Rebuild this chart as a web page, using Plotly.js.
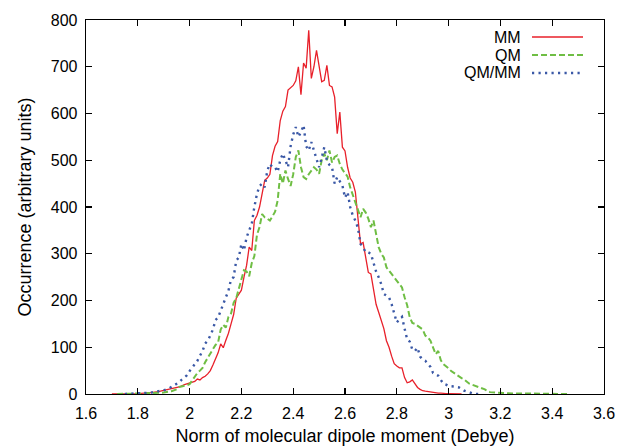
<!DOCTYPE html>
<html>
<head>
<meta charset="utf-8">
<script src="https://cdn.plot.ly/plotly-3.0.1.min.js"></script>
<style>html,body{margin:0;padding:0;background:#fff;}#chart{width:618px;height:446px;}</style>
</head>
<body>
<div id="chart"></div>
<script>
// Series names (legend)
var seriesNames = ["MM", "QM", "QM/MM"];

// MM (red, solid)
var xMM = [1.70,1.75,1.80,1.85,1.88,1.90,1.92,1.94,1.96,1.98,
 2.00,2.01,2.02,2.03,2.04,2.05,2.06,2.07,2.08,2.09,
 2.10,2.11,2.12,2.13,2.14,2.15,2.16,2.17,2.18,2.19,
 2.20,2.21,2.22,2.23,2.24,2.25,2.26,2.27,2.28,2.29,
 2.30,2.31,2.32,2.33,2.34,2.35,2.36,2.37,2.38,2.39,
 2.40,2.41,2.42,2.43,2.44,2.45,2.46,2.47,2.48,2.49,
 2.50,2.51,2.52,2.53,2.54,2.55,2.56,2.57,2.58,2.59,
 2.60,2.61,2.62,2.63,2.64,2.65,2.66,2.67,2.68,2.69,
 2.70,2.71,2.72,2.73,2.74,2.75,2.76,2.77,2.78,2.79,
 2.80,2.81,2.82,2.83,2.84,2.85,2.86,2.87,2.88,2.89,
 2.90,2.91,2.92,2.93,2.94,2.95,2.96,2.97,2.98,2.99,3.00,3.02,3.05];
var yMM = [0,0,1,3,5,8,10,12,15,20,
 24,26,27,32,30,35,38,43,50,62,
 75,88,107,99,115,130,150,170,205,215,
 222,250,275,314,307,371,382,400,425,457,
 462,470,510,530,540,585,605,615,650,655,
 660,670,700,640,708,697,778,675,700,735,
 700,668,671,703,660,657,635,557,603,528,
 520,485,462,453,432,378,321,324,290,260,
 257,220,192,175,157,140,114,100,81,65,
 60,56,56,35,24,26,30,21,14,10,
 7,6,5,4,3,3,2,2,1,1,1,0,0];

// QM (green, dashed)
var xQM = [1.72,1.75,1.80,1.85,1.90,1.93,1.95,
 1.96,1.97,1.98,1.99,2.00,2.01,2.02,2.03,2.04,2.05,2.06,2.07,2.08,2.09,
 2.10,2.11,2.12,2.13,2.14,2.15,2.16,2.17,2.18,2.19,
 2.20,2.21,2.22,2.23,2.24,2.25,2.26,2.27,2.28,2.29,
 2.30,2.31,2.32,2.33,2.34,2.35,2.36,2.37,2.38,2.39,
 2.40,2.41,2.42,2.43,2.44,2.45,2.46,2.47,2.48,2.49,
 2.50,2.51,2.52,2.53,2.54,2.55,2.56,2.57,2.58,2.59,
 2.60,2.61,2.62,2.63,2.64,2.65,2.66,2.67,2.68,2.69,
 2.70,2.71,2.72,2.73,2.74,2.75,2.76,2.77,2.78,2.79,
 2.80,2.81,2.82,2.83,2.84,2.85,2.86,2.87,2.88,2.89,
 2.90,2.91,2.92,2.93,2.94,2.95,2.96,2.97,2.98,2.99,
 3.00,3.01,3.02,3.03,3.04,3.05,3.06,3.07,3.08,3.09,
 3.10,3.11,3.12,3.13,3.14,3.15,3.16,3.18,3.20,3.25,3.30,3.35,3.40,3.46];
var yQM = [0,0,1,2,3,6,10,
 15,16,18,19,21,30,38,45,50,56,68,78,85,95,
 105,110,138,148,142,165,172,195,205,225,
 245,265,262,252,280,295,340,357,385,378,
 375,371,380,390,414,471,450,478,460,445,
 470,507,521,485,464,460,470,478,485,480,
 471,500,514,500,521,495,507,510,492,480,
 471,465,442,425,410,392,378,396,388,375,
 357,371,340,314,300,292,271,264,257,248,
 242,235,228,207,190,164,152,150,146,142,
 138,125,121,114,100,85,92,72,64,60,
 55,49,45,42,38,34,31,26,22,20,
 18,17,14,12,10,6,4,3,2,1,1,1,0,0];

// QM/MM (blue, dotted)
var xQMMM = [1.75,1.80,1.85,1.88,1.90,1.92,
 1.94,1.95,1.96,1.97,1.98,1.99,
 2.00,2.01,2.02,2.03,2.04,2.05,2.06,2.07,2.08,2.09,
 2.10,2.11,2.12,2.13,2.14,2.15,2.16,2.17,2.18,2.19,
 2.20,2.21,2.22,2.23,2.24,2.25,2.26,2.27,2.28,2.29,
 2.30,2.31,2.32,2.33,2.34,2.35,2.36,2.37,2.38,2.39,
 2.40,2.41,2.42,2.43,2.44,2.45,2.46,2.47,2.48,2.49,
 2.50,2.51,2.52,2.53,2.54,2.55,2.56,2.57,2.58,2.59,
 2.60,2.61,2.62,2.63,2.64,2.65,2.66,2.67,2.68,2.69,
 2.70,2.71,2.72,2.73,2.74,2.75,2.76,2.77,2.78,2.79,
 2.80,2.81,2.82,2.83,2.84,2.85,2.86,2.87,2.88,2.89,
 2.90,2.91,2.92,2.93,2.94,2.95,2.96,2.97,2.98,2.99,
 3.00,3.02,3.04,3.06,3.08,3.10,3.12];
var yQMMM = [0,1,3,6,8,12,
 18,21,25,31,35,40,
 49,56,62,71,82,92,108,114,125,138,
 158,164,178,195,207,221,245,250,285,292,
 321,307,335,350,364,400,428,445,450,442,
 478,492,485,485,475,500,514,500,485,530,
 555,571,550,560,575,530,521,539,520,500,
 485,505,528,500,490,485,450,464,455,446,
 420,432,400,382,371,355,321,314,303,303,
 300,278,262,250,235,214,210,207,192,171,
 153,160,165,140,117,112,95,92,99,80,
 74,71,65,58,45,42,39,30,22,20,
 17,16,14,7,3,0,0];

// Axis ticks
var xTicks = [1.6,1.8,2,2.2,2.4,2.6,2.8,3,3.2,3.4,3.6];
var yTicks = [0,100,200,300,400,500,600,700,800];

var colors = ["#e8202a", "#6fbe44", "#3a58a6"];
var dashes = ["solid", "6px,3px", "2.2px,4.3px"];
var widths = [1.3, 2, 2.4];
var FONT = "Liberation Sans, Arial, Helvetica, sans-serif";

var xs = [xMM, xQM, xQMMM];
var ys = [yMM, yQM, yQMMM];
var traces = [];
for (var i = 0; i < 3; i++) {
  traces.push({
    x: xs[i], y: ys[i], type: "scatter", mode: "lines", name: seriesNames[i],
    line: {color: colors[i], width: widths[i], dash: dashes[i]},
    showlegend: false, hoverinfo: "skip"
  });
}

// custom legend (text left of the key line, as in the reference)
var annotations = [], shapes = [];
var rowY = [0.9545, 0.9064, 0.8583];
for (var j = 0; j < 3; j++) {
  annotations.push({
    xref: "paper", yref: "paper", x: 0.8417, y: rowY[j],
    xanchor: "right", yanchor: "middle", showarrow: false,
    text: seriesNames[j], font: {family: FONT, size: 16, color: "#000"},
    borderpad: 0
  });
  shapes.push({
    type: "line", xref: "paper", yref: "paper",
    x0: 0.861, x1: 0.9595, y0: rowY[j], y1: rowY[j],
    line: {color: colors[j], width: widths[j], dash: dashes[j]}
  });
}

var axisCommon = {
  ticks: "inside", ticklen: 6, tickwidth: 1.2, tickcolor: "#000",
  showline: true, linecolor: "#000", linewidth: 1.3, mirror: "ticks",
  showgrid: false, zeroline: false,
  tickfont: {family: FONT, size: 16, color: "#000"}
};

var layout = {
  width: 618, height: 446,
  margin: {l: 86, r: 14, t: 20, b: 52, pad: 0},
  paper_bgcolor: "#fff", plot_bgcolor: "#fff",
  font: {family: FONT, color: "#000"},
  xaxis: Object.assign({}, axisCommon, {
    range: [1.6, 3.6], tickmode: "array", tickvals: xTicks,
    ticklabelstandoff: 4,
    title: {text: "Norm of molecular dipole moment (Debye)", font: {family: FONT, size: 18, color: "#000"}, standoff: 10}
  }),
  yaxis: Object.assign({}, axisCommon, {
    range: [0, 800], tickmode: "array", tickvals: yTicks,
    ticklabelstandoff: 4,
    title: {text: "Occurrence (arbitrary units)", font: {family: FONT, size: 18, color: "#000"}, standoff: 14}
  }),
  annotations: annotations,
  shapes: shapes
};

Plotly.newPlot("chart", traces, layout, {displayModeBar: false, staticPlot: true});
</script>
</body>
</html>
